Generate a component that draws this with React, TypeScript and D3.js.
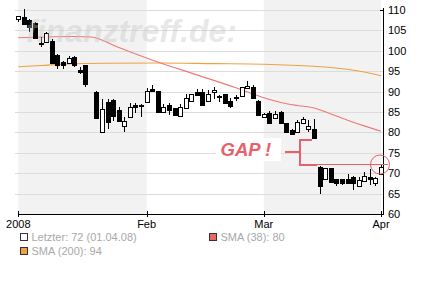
import React from "react";
import * as d3 from "d3";

// ---------- DATA ----------
const dates = [
  "2008-01-01", "2008-01-02", "2008-01-03", "2008-01-04", "2008-01-07", "2008-01-08",
  "2008-01-09", "2008-01-10", "2008-01-11", "2008-01-14", "2008-01-15", "2008-01-16",
  "2008-01-17", "2008-01-21", "2008-01-22", "2008-01-23", "2008-01-24", "2008-01-25",
  "2008-01-28", "2008-01-29", "2008-01-30", "2008-01-31", "2008-02-01", "2008-02-04",
  "2008-02-05", "2008-02-06", "2008-02-07", "2008-02-08", "2008-02-11", "2008-02-12",
  "2008-02-13", "2008-02-14", "2008-02-15", "2008-02-18", "2008-02-19", "2008-02-20",
  "2008-02-21", "2008-02-22", "2008-02-25", "2008-02-26", "2008-02-27", "2008-02-28",
  "2008-02-29", "2008-03-03", "2008-03-04", "2008-03-05", "2008-03-06", "2008-03-07",
  "2008-03-10", "2008-03-11", "2008-03-12", "2008-03-13", "2008-03-14", "2008-03-17",
  "2008-03-18", "2008-03-19", "2008-03-20", "2008-03-21", "2008-03-24", "2008-03-25",
  "2008-03-26", "2008-03-27", "2008-03-28", "2008-03-31", "2008-04-01",
];
const opens = [
  107.7, 108.2, 107.5, 106.7, 102.0, 102.2, 102.5, 99.0, 97.3, 97.1, 98.4, 95.3,
  96.5, 90.0, 80.0, 87.4, 87.9, 85.5, 81.6, 83.8, 86.7, 86.6, 87.5, 90.6,
  90.1, 84.9, 86.7, 86.0, 84.1, 86.1, 87.8, 89.9, 89.8, 87.8, 89.8, 88.6,
  89.4, 87.8, 88.6, 89.0, 90.8, 91.2, 87.7, 83.7, 84.8, 83.6, 85.1, 82.2,
  80.7, 80.2, 82.2, 80.8, 80.8, 71.6, 68.5, 71.2, 68.5, 68.5, 68.5, 69.1,
  66.9, 68.2, 69.1, 67.7, 69.8,
];
const highs = [
  108.6, 110.2, 107.8, 107.1, 103.3, 104.7, 102.8, 99.2, 97.4, 98.7, 98.8, 96.1,
  96.6, 90.2, 88.2, 88.2, 88.2, 86.3, 83.7, 87.1, 87.2, 86.9, 90.8, 91.6,
  90.2, 86.9, 87.1, 86.1, 86.9, 89.3, 89.5, 90.6, 90.6, 90.4, 91.1, 89.1,
  89.5, 88.5, 89.2, 91.2, 92.7, 91.6, 87.9, 84.7, 85.3, 85.2, 85.2, 82.3,
  80.8, 83.0, 83.7, 83.0, 83.2, 71.8, 71.3, 71.3, 68.6, 68.6, 69.8, 69.2,
  69.1, 70.2, 71.0, 69.0, 72.2,
];
const lows = [
  107.1, 106.5, 104.7, 102.8, 101.0, 102.1, 97.0, 95.6, 95.5, 97.0, 96.1, 94.3,
  91.2, 83.4, 79.9, 80.8, 82.8, 82.7, 80.2, 83.7, 84.8, 83.8, 87.4, 90.0,
  85.0, 84.8, 84.3, 84.2, 84.0, 86.0, 87.7, 89.1, 86.6, 87.7, 88.1, 87.5,
  87.0, 86.1, 87.8, 88.9, 90.7, 88.3, 84.2, 83.5, 82.2, 83.5, 82.2, 80.1,
  79.3, 80.1, 82.0, 80.2, 78.5, 64.9, 68.4, 67.8, 66.9, 67.0, 67.3, 65.9,
  66.8, 68.1, 67.2, 66.9, 69.7,
];
const closes = [
  108.5, 106.6, 105.8, 103.1, 101.7, 104.4, 97.1, 96.5, 96.5, 98.2, 96.5, 94.9,
  91.9, 83.5, 85.7, 82.6, 84.1, 82.8, 82.8, 86.3, 86.2, 86.4, 90.1, 90.1,
  85.1, 86.2, 85.5, 84.3, 86.2, 88.4, 89.3, 89.2, 86.7, 89.4, 90.4, 89.0,
  87.1, 86.4, 88.4, 91.1, 91.4, 88.4, 84.3, 84.6, 82.4, 84.5, 82.3, 80.2,
  79.5, 82.6, 83.3, 81.5, 78.6, 66.9, 71.2, 67.9, 67.5, 67.5, 67.5, 67.7,
  68.3, 69.4, 68.6, 68.9, 71.6,
];

const sma38Dates = [
  "2008-01-01", "2008-01-08", "2008-01-15", "2008-01-18", "2008-01-25", "2008-02-05",
  "2008-02-14", "2008-02-25", "2008-03-03", "2008-03-06", "2008-03-11", "2008-03-14",
  "2008-03-19", "2008-03-24", "2008-03-27", "2008-04-01",
];
const sma38Values = [
  103.2, 103.4, 103.5, 103.4, 100.8, 97.25, 94.1, 90.95, 88.5, 87.35, 86.6, 86.0,
  84.5, 83.0, 81.6, 80.3,
];
const sma200Dates = [
  "2008-01-01", "2008-01-07", "2008-01-14", "2008-01-22", "2008-02-05", "2008-02-19",
  "2008-03-03", "2008-03-14", "2008-03-19", "2008-03-27", "2008-04-01",
];
const sma200Values = [96.1, 96.4, 96.8, 96.95, 97.0, 96.85, 96.7, 96.2, 95.9, 94.8, 93.9];

const yTicks = [60, 65, 70, 75, 80, 85, 90, 95, 100, 105, 110];
const monthTickDates = ["2008-01-01", "2008-02-01", "2008-03-01", "2008-04-01"];
const monthTickLabels = ["2008", "Feb", "Mar", "Apr"];
const shadedMonths = [["2008-01-01", "2008-02-01"], ["2008-03-01", "2008-04-01"]];

const gapTop = 78.4;
const gapBottom = 72.2;
const gapLabel = "GAP !";
const watermark = "finanztreff.de:";
const legendItems = [
  { label: "Letzter: 72 (01.04.08)", color: "#ffffff" },
  { label: "SMA (38): 80", color: "#e86868" },
  { label: "SMA (200): 94", color: "#f0a040" },
];

// ---------- HELPERS ----------
function weekdayIndex(s: string): number {
  const start = new Date(2008, 0, 1);
  const [yy, mm, dd] = s.split("-").map(Number);
  const end = new Date(yy, mm - 1, dd);
  return d3.timeDay.range(start, end).filter((t) => t.getDay() !== 0 && t.getDay() !== 6).length;
}

const FONT = "'Liberation Sans', Arial, sans-serif";

export default function App() {
  const W = 422;
  const H = 281;
  const x = d3.scaleLinear().domain([0, 65]).range([18.3, 381]);
  const y = d3.scaleLinear().domain([60, 110]).range([214, 10]);

  const axisRight = 382.5;
  const plotLeft = 18;
  const plotBottom = 214;

  const line = d3
    .line<[number, number]>()
    .x((d) => x(d[0]))
    .y((d) => y(d[1]))
    .curve(d3.curveMonotoneX);

  const sma38Path = line(sma38Dates.map((d, i) => [weekdayIndex(d), sma38Values[i]]));
  const sma200Path = line(sma200Dates.map((d, i) => [weekdayIndex(d), sma200Values[i]]));

  const candles = dates.map((d, i) => {
    const cx = Math.round(x(weekdayIndex(d)));
    const o = opens[i];
    const c = closes[i];
    const up = c >= o;
    const top = Math.round(y(Math.max(o, c)));
    let bot = Math.round(y(Math.min(o, c)));
    if (bot - top < 1) bot = top + 1;
    return (
      <g key={d}>
        <line
          x1={cx + 0.5}
          x2={cx + 0.5}
          y1={Math.round(y(highs[i]))}
          y2={Math.round(y(lows[i]))}
          stroke="#000"
          strokeWidth={1}
        />
        <rect
          x={cx - 1.5}
          y={top + 0.5}
          width={4}
          height={bot - top}
          fill={up ? "#fff" : "#000"}
          stroke="#000"
          strokeWidth={1}
        />
      </g>
    );
  });

  const gapTopY = Math.round(y(gapTop)) + 0.5;
  const gapBotY = Math.round(y(gapBottom)) + 0.5;
  const gapMidY = Math.round((gapTopY + gapBotY) / 2);
  const bracketX = 299.5;
  const lastX = x(65);

  return (
    <div style={{ position: "fixed", left: 0, top: 0 }}>
      <svg width={W} height={H} style={{ display: "block", background: "#fff" }}>
        {/* shaded months */}
        {shadedMonths.map(([a, b]) => (
          <rect
            key={a}
            x={x(weekdayIndex(a))}
            y={0}
            width={x(weekdayIndex(b)) - x(weekdayIndex(a))}
            height={plotBottom}
            fill="#f2f2f2"
          />
        ))}
        {/* grid */}
        {yTicks
          .filter((t) => t > 60)
          .map((t) => (
            <line
              key={t}
              x1={15}
              x2={axisRight}
              y1={Math.round(y(t)) + 0.5}
              y2={Math.round(y(t)) + 0.5}
              stroke="#dcdcdc"
              strokeWidth={1}
            />
          ))}
        {/* moving averages */}
        <path d={sma200Path || ""} fill="none" stroke="#f0a040" strokeWidth={1.1} />
        <path d={sma38Path || ""} fill="none" stroke="#f07878" strokeWidth={1.1} />
        {/* candles */}
        <g shapeRendering="crispEdges">{candles}</g>
        {/* watermark */}
        <text
          x={26}
          y={42}
          fontFamily={FONT}
          fontSize={32}
          fontWeight="bold"
          fontStyle="italic"
          fill="#c4c4c4"
          fillOpacity={0.4}
        >
          {watermark}
        </text>
        {/* axes */}
        <g shapeRendering="crispEdges">
          <line x1={plotLeft} x2={axisRight + 0.5} y1={plotBottom + 0.5} y2={plotBottom + 0.5} stroke="#000" />
          <line x1={axisRight + 0.5} x2={axisRight + 0.5} y1={8} y2={plotBottom + 1} stroke="#000" />
          <line x1={axisRight - 3} x2={axisRight + 0.5} y1={10.5} y2={10.5} stroke="#000" />
          {monthTickDates.map((d) => {
            const tx = Math.round(x(weekdayIndex(d))) + 0.5;
            return <line key={d} x1={tx} x2={tx} y1={211} y2={217} stroke="#000" />;
          })}
        </g>
        {monthTickDates.map((d, i) => (
          <text
            key={d}
            x={x(weekdayIndex(d))}
            y={228}
            textAnchor="middle"
            fontFamily={FONT}
            fontSize={11}
            fill="#000"
          >
            {monthTickLabels[i]}
          </text>
        ))}
        {yTicks.map((t) => (
          <text key={t} x={388} y={y(t) + 4} fontFamily={FONT} fontSize={11} fill="#000">
            {t}
          </text>
        ))}
        {/* GAP annotation */}
        <rect x={216} y={138} width={65} height={23} fill="#fff" />
        <text
          x={220.5}
          y={155.5}
          fontFamily={FONT}
          fontSize={18.5}
          fontWeight="bold"
          fontStyle="italic"
          fill="#e8606a"
        >
          {gapLabel}
        </text>
        <g stroke="#e8606a" fill="none" shapeRendering="crispEdges">
          <line x1={285} x2={bracketX} y1={gapMidY} y2={gapMidY} strokeWidth={2} />
          <line x1={bracketX} x2={bracketX} y1={gapTopY - 1} y2={gapBotY + 1} strokeWidth={2} />
          <line x1={bracketX - 1} x2={312} y1={gapTopY} y2={gapTopY} strokeWidth={2} />
          <line x1={bracketX - 1} x2={317} y1={gapBotY} y2={gapBotY} strokeWidth={2} />
          <line x1={317} x2={388} y1={gapBotY - 0.5} y2={gapBotY - 0.5} strokeWidth={1} />
        </g>
        <circle cx={lastX - 1} cy={gapBotY} r={9.5} fill="none" stroke="#e8606a" strokeWidth={1} />
        {/* legend */}
        {legendItems.map((it, i) => {
          const col = i === 1 ? 1 : 0;
          const row = i === 2 ? 1 : 0;
          const lx = col === 0 ? 20.5 : 209.5;
          const ly = row === 0 ? 233.5 : 247.5;
          return (
            <g key={it.label}>
              <rect
                x={lx}
                y={ly}
                width={7}
                height={7}
                fill={it.color}
                stroke="#333"
                strokeWidth={1}
                shapeRendering="crispEdges"
              />
              <text x={lx + 11} y={ly + 7.3} fontFamily={FONT} fontSize={11} fill="#a8a8a8">
                {it.label}
              </text>
            </g>
          );
        })}
      </svg>
    </div>
  );
}
